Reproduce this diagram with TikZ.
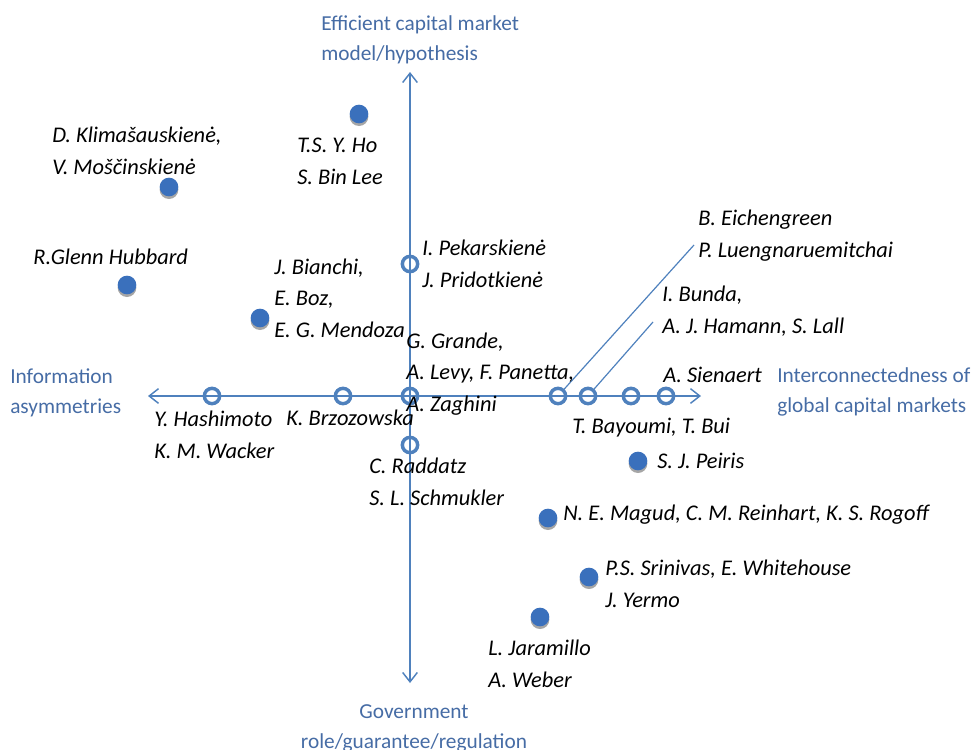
\documentclass[tikz,border=0pt]{standalone}
\usepackage{fontspec}
\setmainfont{Carlito}
\usetikzlibrary{arrows.meta, shadows}
\definecolor{axisblue}{RGB}{79,129,189}
\definecolor{dotblue}{RGB}{58,112,188}
\definecolor{textblue}{RGB}{70,108,165}

\begin{document}
\begin{tikzpicture}[x=0.75pt, y=-0.75pt, >={Straight Barb[length=7pt,width=11pt]},
    axis/.style={draw=axisblue, line width=1.1pt},
    dot/.style={circle, fill=dotblue, minimum size=14pt, inner sep=0pt,
        drop shadow={shadow xshift=0pt, shadow yshift=-2pt, fill=gray!70, opacity=1}},
    ring/.style={circle, draw=axisblue, line width=2.6pt, minimum size=11.5pt, inner sep=0pt},
    who/.style={font=\fontsize{16.8}{23.3}\selectfont\itshape, inner sep=0pt, anchor=base west, align=left},
    topic/.style={font=\fontsize{16}{22}\selectfont, text=textblue, inner sep=0pt, anchor=base west, align=left}]
    \useasboundingbox (0,0) rectangle (972,750);

    % Axes
    \coordinate (up) at (410,72);
    \coordinate (down) at (410,683);
    \coordinate (lt) at (148,396);
    \coordinate (rt) at (701,396);
    \draw [axis,<->] (down) -- (up);
    \draw [axis,<->] (lt) -- (rt);

    \node [topic] (T1) at (321,60) {Efficient capital market\\model/hypothesis};
    \node [topic] (T2) at (10,413) {Information\\asymmetries};
    \node [topic] (T3) at (777,412) {Interconnectedness of\\global capital markets};
    \node [topic, align=center, anchor=base] (T4) at (414,748) {Government\\role/guarantee/regulation};

    % Open circles
    \node [ring] (O1) at (410,264) {};
    \node [ring] (O2) at (212,396) {};
    \node [ring] (O3) at (343,396) {};
    \node [ring] (O4) at (410,396) {};
    \node [ring] (O5) at (410,445) {};
    \node [ring] (O6) at (558,396) {};
    \node [ring] (O7) at (588,396) {};
    \node [ring] (O8) at (631,396) {};
    \node [ring] (O9) at (666,396) {};

    \coordinate (E1) at (694,245);
    \coordinate (E2) at (653,322);
    \draw [axis, line width=0.9pt] (O6) -- (E1);
    \draw [axis, line width=0.9pt] (O7) -- (E2);

    % Filled circles
    \node [dot] (D1) at (359,114) {};
    \node [dot] (D2) at (169,187) {};
    \node [dot] (D3) at (127,285) {};
    \node [dot] (D4) at (260,318) {};
    \node [dot] (D5) at (638,461) {};
    \node [dot] (D6) at (548,518) {};
    \node [dot] (D7) at (589,577) {};
    \node [dot] (D8) at (540,617) {};

    % Authors (placed at the baseline of the last line)
    \node [who] (A1) at (297,184) {T.S. Y. Ho\\S. Bin Lee};
    \node [who] (A2) at (52,174) {D. Klimašauskienė,\\V. Moščinskienė};
    \node [who] (A3) at (33,264) {R.Glenn Hubbard};
    \node [who] (A4) at (274,337) {J. Bianchi,\\E. Boz,\\E. G. Mendoza};
    \node [who] (A5) at (422,287) {I. Pekarskienė\\J. Pridotkienė};
    \node [who] (A6) at (406,411) {G. Grande,\\A. Levy, F. Panetta,\\A. Zaghini};
    \node [who] (A7) at (698,257) {B. Eichengreen\\P. Luengnaruemitchai};
    \node [who] (A8) at (662,333) {I. Bunda,\\A. J. Hamann, S. Lall};
    \node [who] (A9) at (663,382) {A. Sienaert};
    \node [who] (A10) at (154,458) {Y. Hashimoto\\K. M. Wacker};
    \node [who] (A11) at (286,425) {K. Brzozowska};
    \node [who] (A12) at (369,505) {C. Raddatz\\S. L. Schmukler};
    \node [who] (A13) at (572,433) {T. Bayoumi, T. Bui};
    \node [who] (A14) at (657,468) {S. J. Peiris};
    \node [who] (A15) at (563,520) {N. E. Magud, C. M. Reinhart, K. S. Rogoff};
    \node [who] (A16) at (605,607) {P.S. Srinivas, E. Whitehouse\\J. Yermo};
    \node [who] (A17) at (488,687) {L. Jaramillo\\A. Weber};
\end{tikzpicture}
\end{document}
